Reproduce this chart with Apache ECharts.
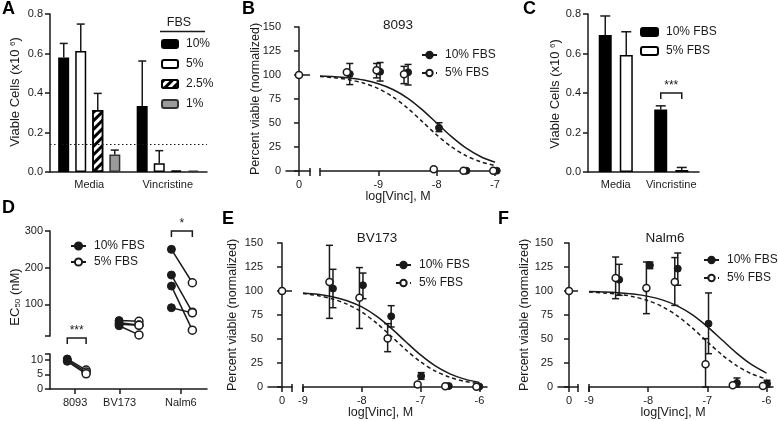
<!DOCTYPE html>
<html>
<head>
<meta charset="utf-8">
<script src="https://cdn.jsdelivr.net/npm/echarts@6/dist/echarts.min.js"></script>
<style>
  html, body { margin: 0; padding: 0; background: #fff; }
  #chart { width: 778px; height: 421px; }
</style>
</head>
<body>
<div id="chart"></div>
<script>
// ---------- data ----------

// A: viable cells per FBS level (x10^6)
const aCategories = ['Media', 'Vincristine'];
const aLevels = ['10%', '5%', '2.5%', '1%'];
const aMean = [[0.580, 0.334], [0.613, 0.044], [0.314, 0.007], [0.089, 0.007]];
const aUpper = [[0.651, 0.562], [0.749, 0.108], [0.398, null], [0.111, null]];
const aCutoff = 0.137;

// C: viable cells, 10% vs 5% FBS
const cCategories = ['Media', 'Vincristine'];
const cLevels = ['10% FBS', '5% FBS'];
const cMean = [[0.694, 0.316], [0.593, 0.010]];
const cUpper = [[0.790, 0.335], [0.710, 0.023]];

// shared control (untreated) point for the dose curves
const doseControl = 100;

// B: 8093
const bX10 = [-9.49, -8.97, -8.49, -7.96, -7.49, -6.97];
const bY10 = [101, 103.4, 102.8, 45, 0.3, 0.3];
const bErr10 = [[90, 112], [93.7, 113], [89.6, 111], [41, 50.3], null, null];
const bX5 = [-9.54, -9.03, -8.56, -8.05, -7.54, -7.03];
const bY5 = [102.8, 105, 100.7, 1.8, 0.3, 0.3];
const bErr5 = [null, [97, 112], [91, 109], null, null, null];
const bFitX = [-10, -9.75, -9.5, -9.25, -9, -8.75, -8.5, -8.25, -8, -7.75, -7.5, -7.25, -7];
const bFit10 = [99.0, 98.3, 96.9, 94.7, 90.9, 84.9, 76.0, 64.0, 50.0, 36.0, 24.0, 15.1, 9.1];
const bFit5 = [98.4, 97.1, 95.0, 91.5, 85.8, 77.2, 65.6, 51.7, 37.6, 25.3, 16.0, 9.7, 5.7];

// E: BV173
const eX10 = [-8.49, -7.98, -7.50, -6.99, -6.52, -6.00];
const eY10 = [102.5, 106, 73.6, 11.4, 1, 0.5];
const eErr10 = [[82.6, 122.6], [92, 118.7], [62.5, 84.7], [8, 15], null, null];
const eX5 = [-8.55, -8.04, -7.56, -7.05, -6.58, -6.05];
const eY5 = [109.4, 93, 50.4, 2.5, 0.8, 0.3];
const eErr5 = [[71.5, 147.6], [61, 124.4], [36.8, 66], null, null, null];
const eFitX = [-9, -8.75, -8.5, -8.25, -8, -7.75, -7.5, -7.25, -7, -6.75, -6.5, -6.25, -6];
const eFit10 = [98.0, 96.6, 94.1, 89.9, 83.4, 73.8, 61.3, 47.1, 33.4, 22.0, 13.7, 8.2, 4.8];
const eFit5 = [97.3, 95.2, 91.8, 86.3, 78.0, 66.6, 52.9, 38.7, 26.2, 16.6, 10.1, 5.9, 3.4];

// F: Nalm6
const fX10 = [-8.49, -7.97, -7.50, -6.98, -6.50, -5.99];
const fY10 = [111.8, 126.8, 123.3, 66, 4.2, 3.5];
const fErr10 = [[95.5, 127.8], [123.3, 130.2], [106, 139.6], [34.7, 98], [0, 9.4], [0, 7]];
const fX5 = [-8.55, -8.03, -7.55, -7.03, -6.57, -6.06];
const fY5 = [113.5, 103, 109.4, 23.6, 1.8, 1];
const fErr5 = [[92, 135.4], [76.4, 130.2], [85, 134.8], [0, 50.4], null, null];
const fFitX = [-9, -8.75, -8.5, -8.25, -8, -7.75, -7.5, -7.25, -7, -6.75, -6.5, -6.25, -6];
const fFit10 = [99.4, 99.0, 98.2, 96.8, 94.4, 90.5, 84.3, 75.1, 62.9, 48.9, 35.0, 23.2, 14.5];
const fFit5 = [98.9, 98.0, 96.6, 94.1, 89.9, 83.4, 73.8, 61.3, 47.1, 33.4, 22.0, 13.7, 8.2];

// D: EC50 (nM), paired 10% -> 5% FBS
const dGroups = ['8093', 'BV173', 'Nalm6'];
const dLabelX = [0.48, 1.33, 2.50];
const dX10 = [0.33, 1.32, 2.32];
const dX5 = [0.69, 1.70, 2.72];
const dEc10 = [[10.3, 9.9, 9.5], [56, 50, 46, 42], [250, 180, 150, 91]];
const dEc5 = [[6.5, 5.8, 5.2], [54, 44, 43, 17], [159, 79, 30, 77]];

// ---------- helpers ----------
const FONT = "'Liberation Sans', Arial, sans-serif";
const INK = '#1a1a1a';
const FILLED = { color: INK, borderColor: INK, borderWidth: 1, opacity: 1 };
const OPEN = { color: '#fff', borderColor: INK, borderWidth: 1.5, opacity: 1 };
const legendText = {
  B10: '10% FBS', B5: '5% FBS', C10: '10% FBS', C5: '5% FBS',
  D10: '10% FBS', D5: '5% FBS', E10: '10% FBS', E5: '5% FBS',
  F10: '10% FBS', F5: '5% FBS'
};

const grids = [], xAxes = [], yAxes = [], series = [], legends = [], elements = [];

function addGrid(left, top, width, height) {
  grids.push({ left: left, top: top, width: width, height: height, containLabel: false, outerBoundsMode: 'none' });
  return grids.length - 1;
}

function axisParts(show, ticks, labels, margin) {
  const o = {
    axisLine: { show: show, lineStyle: { color: INK, width: 1.5 } },
    axisTick: { show: show, length: 5, lineStyle: { color: INK, width: 1.5 } },
    axisLabel: { show: show, color: INK, fontSize: 11, fontFamily: FONT, margin: margin },
    splitLine: { show: false }
  };
  if (ticks) o.axisTick.customValues = ticks;
  if (labels) o.axisLabel.customValues = labels;
  return o;
}

function text(str, x, y, size, extra) {
  const el = {
    type: 'text', x: x, y: y, silent: true,
    style: { text: str, fill: INK, fontSize: size, fontFamily: FONT, align: 'center', verticalAlign: 'middle' }
  };
  if (extra) {
    if (extra.rotation) el.rotation = extra.rotation;
    Object.assign(el.style, extra.style || {});
  }
  elements.push(el);
}

function makeLegend(names, left, top, iconW, iconH, gap) {
  legends.push({
    data: names, left: left, top: top, orient: 'vertical', padding: 0,
    itemWidth: iconW, itemHeight: iconH, itemGap: gap, selectedMode: false,
    textStyle: { color: INK, fontSize: 12, fontFamily: FONT, padding: [0, 0, 0, 3] },
    formatter: function (n) { return legendText[n] || n; }
  });
}

// error bar above a grouped bar
function barErrorRender(count, barWidth, gap, cap) {
  return function (params, api) {
    const k = api.value(3);
    const dx = (k - (count - 1) / 2) * (barWidth + gap);
    const base = api.coord([api.value(0), api.value(1)]);
    const top = api.coord([api.value(0), api.value(2)]);
    const x = base[0] + dx;
    const s = { stroke: INK, lineWidth: 1.5 };
    return {
      type: 'group', children: [
        { type: 'line', shape: { x1: x, y1: base[1], x2: x, y2: top[1] }, style: s },
        { type: 'line', shape: { x1: x - cap, y1: top[1], x2: x + cap, y2: top[1] }, style: s }
      ]
    };
  };
}

// symmetric error bar for dose points
function doseErrorRender(cap) {
  return function (params, api) {
    const x = api.value(0);
    const lo = api.coord([x, api.value(1)]);
    const hi = api.coord([x, api.value(2)]);
    const s = { stroke: INK, lineWidth: 1.5 };
    return {
      type: 'group', children: [
        { type: 'line', shape: { x1: lo[0], y1: lo[1], x2: hi[0], y2: hi[1] }, style: s },
        { type: 'line', shape: { x1: lo[0] - cap, y1: lo[1], x2: lo[0] + cap, y2: lo[1] }, style: s },
        { type: 'line', shape: { x1: hi[0] - cap, y1: hi[1], x2: hi[0] + cap, y2: hi[1] }, style: s }
      ]
    };
  };
}

// axis-break marks: short vertical strokes crossing the x axis line
function breakRender(params, api) {
  const p = api.coord([api.value(0), api.value(1)]);
  return { type: 'line', shape: { x1: p[0], y1: p[1] - 3, x2: p[0], y2: p[1] + 5 }, style: { stroke: INK, lineWidth: 1.5 } };
}

// significance bracket between two x positions at one level
function bracketRender(stars, dxA, dxB) {
  return function (params, api) {
    const a = api.coord([api.value(0), api.value(2)]);
    const b = api.coord([api.value(1), api.value(2)]);
    const xa = a[0] + dxA, xb = b[0] + dxB, y = a[1];
    return {
      type: 'group', children: [
        { type: 'polyline', shape: { points: [[xa, y + 6], [xa, y], [xb, y], [xb, y + 6]] }, style: { stroke: INK, lineWidth: 1.5, fill: null } },
        { type: 'text', x: (xa + xb) / 2, y: y - 1, style: { text: stars, fill: INK, fontSize: 12, fontFamily: FONT, align: 'center', verticalAlign: 'bottom' } }
      ]
    };
  };
}

// ---------- panel A ----------
const gA = addGrid(50, 14, 157, 158);
xAxes.push(Object.assign(axisParts(true, null, null, 7), { type: 'category', gridIndex: gA, data: aCategories }));
xAxes[gA].axisTick.show = false;
xAxes[gA].axisLabel.interval = 0;
yAxes.push(Object.assign(axisParts(true, null, null, 7), { type: 'value', gridIndex: gA, min: 0, max: 0.8, interval: 0.2 }));
yAxes[gA].axisLabel.formatter = function (v) { return v.toFixed(1); };

const aStyles = [
  { color: '#000', borderColor: '#000', borderWidth: 1.5 },
  { color: '#fff', borderColor: '#000', borderWidth: 1.5 },
  { color: '#fff', borderColor: '#000', borderWidth: 1.5,
    decal: { symbol: 'rect', symbolSize: 1, color: '#000', dashArrayX: [1, 0], dashArrayY: [2.5, 2.5], rotation: -Math.PI / 4 } },
  { color: '#9b9b9b', borderColor: '#333', borderWidth: 1.5 }
];
aLevels.forEach(function (lvl, k) {
  const s = {
    type: 'bar', name: lvl, xAxisIndex: gA, yAxisIndex: gA, data: aMean[k],
    barWidth: 11, barGap: '55%', itemStyle: aStyles[k], z: 2
  };
  if (k === 0) {
    s.markLine = {
      silent: true, symbol: 'none', label: { show: false },
      lineStyle: { color: INK, type: [1.5, 2.5], width: 1.2 },
      data: [{ yAxis: aCutoff }]
    };
  }
  series.push(s);
});
const aErrData = [];
aLevels.forEach(function (lvl, k) {
  aCategories.forEach(function (c, j) {
    if (aUpper[k][j] != null) aErrData.push([j, aMean[k][j], aUpper[k][j], k]);
  });
});
series.push({ type: 'custom', xAxisIndex: gA, yAxisIndex: gA, data: aErrData, renderItem: barErrorRender(4, 11, 6, 4), z: 3, silent: true });
makeLegend(aLevels, 161, 38, 16, 8, 8);
text('FBS', 179, 23, 12.5);
elements.push({ type: 'line', silent: true, shape: { x1: 160, y1: 31.5, x2: 205, y2: 31.5 }, style: { stroke: INK, lineWidth: 1.5 } });
text('Viable Cells (x10 {sup|6})', 15, 92, 13, {
  rotation: Math.PI / 2,
  style: { rich: { sup: { fontSize: 8, verticalAlign: 'top', fontFamily: FONT, fill: INK } } }
});

// ---------- dose-response panels (B, E, F) ----------
function dosePanel(p) {
  const gc = addGrid(p.ctrlLeft, p.top, p.ctrlWidth, 144);
  xAxes.push(Object.assign(axisParts(true, [0], [0], 8), { type: 'value', gridIndex: gc, min: -1, max: p.ctrlMax }));
  yAxes.push(Object.assign(axisParts(true, null, null, 5), { type: 'value', gridIndex: gc, min: 0, max: 150, interval: 25 }));
  const gl = addGrid(p.logLeft, p.top, p.logWidth, 144);
  xAxes.push(Object.assign(axisParts(true, p.logTicks, p.logLabels, 8), { type: 'value', gridIndex: gl, min: p.logMin, max: p.logMax }));
  yAxes.push({ type: 'value', gridIndex: gl, min: 0, max: 150, show: false, splitLine: { show: false } });

  // break marks at the end of the control segment and the start of the log segment
  series.push({ type: 'custom', xAxisIndex: gc, yAxisIndex: gc, data: [[p.ctrlMax, 0]], renderItem: breakRender, clip: false, z: 3, silent: true });
  series.push({ type: 'custom', xAxisIndex: gl, yAxisIndex: gl, data: [[p.logMin, 0]], renderItem: breakRender, clip: false, z: 3, silent: true });

  // control point and its plateau line
  series.push({ type: 'line', xAxisIndex: gc, yAxisIndex: gc, data: [[0, doseControl], [p.ctrlMax, doseControl]], symbol: 'none', lineStyle: { color: INK, width: 1.5 }, z: 2, silent: true });
  series.push({ type: 'scatter', xAxisIndex: gc, yAxisIndex: gc, data: [[0, doseControl]], symbolSize: 7, itemStyle: FILLED, z: 4, silent: true });
  series.push({ type: 'scatter', xAxisIndex: gc, yAxisIndex: gc, data: [[0, doseControl]], symbolSize: 7, itemStyle: OPEN, z: 5, silent: true });

  // fitted curves (also give the legend its icons)
  series.push({
    type: 'line', name: p.key + '10', xAxisIndex: gl, yAxisIndex: gl,
    data: p.fitX.map(function (x, i) { return [x, p.fit10[i]]; }),
    smooth: 0.3, symbol: 'circle', showSymbol: false, symbolSize: 7,
    itemStyle: FILLED, lineStyle: { color: INK, width: 1.5 }, z: 2, silent: true
  });
  series.push({
    type: 'line', name: p.key + '5', xAxisIndex: gl, yAxisIndex: gl,
    data: p.fitX.map(function (x, i) { return [x, p.fit5[i]]; }),
    smooth: 0.3, symbol: 'circle', showSymbol: false, symbolSize: 7,
    itemStyle: OPEN, lineStyle: { color: INK, width: 1.5, type: [4, 3] }, z: 2, silent: true
  });

  const errs = [];
  p.err10.forEach(function (e, i) { if (e) errs.push([p.x10[i], e[0], e[1]]); });
  p.err5.forEach(function (e, i) { if (e) errs.push([p.x5[i], e[0], e[1]]); });
  series.push({ type: 'custom', xAxisIndex: gl, yAxisIndex: gl, data: errs, renderItem: doseErrorRender(3.5), z: 3, silent: true });

  series.push({ type: 'scatter', xAxisIndex: gl, yAxisIndex: gl, data: p.x10.map(function (x, i) { return [x, p.y10[i]]; }), symbolSize: 7, itemStyle: FILLED, clip: false, z: 4, silent: true });
  series.push({ type: 'scatter', xAxisIndex: gl, yAxisIndex: gl, data: p.x5.map(function (x, i) { return [x, p.y5[i]]; }), symbolSize: 7, itemStyle: OPEN, clip: false, z: 5, silent: true });

  makeLegend([p.key + '10', p.key + '5'], p.legLeft, p.legTop, 15, 8, p.legGap);
  text(p.title, p.titleX, p.titleY, 13.5);
  text('log[Vinc], M', p.xNameX, p.xNameY, 12.5);
  text('Percent viable (normalized)', p.yNameX, p.top + 72, 12.5, { rotation: Math.PI / 2 });
}

// ---------- panel B ----------
dosePanel({
  key: 'B', top: 27, ctrlLeft: 286, ctrlWidth: 24, ctrlMax: 0.85,
  logLeft: 320, logWidth: 175, logMin: -10, logMax: -7,
  logTicks: [-9, -8, -7], logLabels: [-9, -8, -7],
  x10: bX10, y10: bY10, err10: bErr10, x5: bX5, y5: bY5, err5: bErr5,
  fitX: bFitX, fit10: bFit10, fit5: bFit5,
  legLeft: 421, legTop: 49, legGap: 6, title: '8093', titleX: 398, titleY: 25,
  xNameX: 398, xNameY: 197, yNameX: 256
});

// ---------- panel C ----------
const gC = addGrid(588, 14, 111, 158);
xAxes.push(Object.assign(axisParts(true, null, null, 7), { type: 'category', gridIndex: gC, data: cCategories }));
xAxes[gC].axisTick.show = false;
xAxes[gC].axisLabel.interval = 0;
yAxes.push(Object.assign(axisParts(true, null, null, 7), { type: 'value', gridIndex: gC, min: 0, max: 0.8, interval: 0.2 }));
yAxes[gC].axisLabel.formatter = function (v) { return v.toFixed(1); };
const cStyles = [
  { color: '#000', borderColor: '#000', borderWidth: 1.5 },
  { color: '#fff', borderColor: '#000', borderWidth: 1.5 }
];
cLevels.forEach(function (lvl, k) {
  series.push({
    type: 'bar', name: k === 0 ? 'C10' : 'C5', xAxisIndex: gC, yAxisIndex: gC, data: cMean[k],
    barWidth: 13, barGap: '62%', itemStyle: cStyles[k], z: 2
  });
});
const cErrData = [];
cLevels.forEach(function (lvl, k) {
  cCategories.forEach(function (c, j) { cErrData.push([j, cMean[k][j], cUpper[k][j], k]); });
});
series.push({ type: 'custom', xAxisIndex: gC, yAxisIndex: gC, data: cErrData, renderItem: barErrorRender(2, 13, 8, 5), z: 3, silent: true });
series.push({ type: 'custom', xAxisIndex: gC, yAxisIndex: gC, data: [[1, 1, 0.4]], renderItem: bracketRender('***', -10.5, 10.5), z: 3, silent: true });
makeLegend(['C10', 'C5'], 640, 26, 17, 8, 7);
text('Viable Cells (x10 {sup|6})', 555, 94, 13, {
  rotation: Math.PI / 2,
  style: { rich: { sup: { fontSize: 8, verticalAlign: 'top', fontFamily: FONT, fill: INK } } }
});

// ---------- panel D ----------
const gDu = addGrid(50, 231, 157, 105);
xAxes.push({ type: 'value', gridIndex: gDu, min: 0, max: 3, show: false, splitLine: { show: false } });
yAxes.push(Object.assign(axisParts(true, [14, 100, 200, 300], [100, 200, 300], 7), { type: 'value', gridIndex: gDu, min: 14, max: 300 }));
const gDl = addGrid(50, 354, 157, 35);
xAxes.push(Object.assign(axisParts(true, dLabelX, dLabelX, 8), { type: 'value', gridIndex: gDl, min: 0, max: 3 }));
xAxes[gDl].axisLabel.formatter = function (v) {
  let best = 0;
  dLabelX.forEach(function (p, i) { if (Math.abs(p - v) < Math.abs(dLabelX[best] - v)) best = i; });
  return dGroups[best];
};
yAxes.push(Object.assign(axisParts(true, [0, 5, 10, 12], [0, 5, 10], 7), { type: 'value', gridIndex: gDl, min: 0, max: 12 }));

dGroups.forEach(function (g, gi) {
  const ax = gi === 0 ? gDl : gDu;
  dEc10[gi].forEach(function (v, k) {
    series.push({
      type: 'line', xAxisIndex: ax, yAxisIndex: ax, data: [[dX10[gi], v], [dX5[gi], dEc5[gi][k]]],
      symbol: 'none', lineStyle: { color: INK, width: 1.5 }, z: 2, silent: true
    });
  });
  series.push({ type: 'scatter', xAxisIndex: ax, yAxisIndex: ax, data: dEc10[gi].map(function (v) { return [dX10[gi], v]; }), symbolSize: 8, itemStyle: FILLED, clip: false, z: 4, silent: true });
  series.push({ type: 'scatter', xAxisIndex: ax, yAxisIndex: ax, data: dEc5[gi].map(function (v) { return [dX5[gi], v]; }), symbolSize: 8, itemStyle: OPEN, clip: false, z: 5, silent: true });
});
series.push({ type: 'custom', xAxisIndex: gDl, yAxisIndex: gDl, data: [[dX10[0], dX5[0], 17.5]], renderItem: bracketRender('***', 0, 0), z: 3, silent: true });
series.push({ type: 'custom', xAxisIndex: gDu, yAxisIndex: gDu, data: [[dX10[2], dX5[2], 300]], renderItem: bracketRender('*', 0, 0), z: 3, silent: true });
// legend-only series
series.push({ type: 'line', name: 'D10', xAxisIndex: gDu, yAxisIndex: gDu, data: [], symbol: 'circle', symbolSize: 8, itemStyle: FILLED, lineStyle: { color: INK, width: 1.5 } });
series.push({ type: 'line', name: 'D5', xAxisIndex: gDu, yAxisIndex: gDu, data: [], symbol: 'circle', symbolSize: 8, itemStyle: OPEN, lineStyle: { color: INK, width: 1.5 } });
makeLegend(['D10', 'D5'], 70, 240, 15, 9, 4);
text('EC{sub|50} (nM)', 15, 297, 13, {
  rotation: Math.PI / 2,
  style: { rich: { sub: { fontSize: 8, verticalAlign: 'bottom', fontFamily: FONT, fill: INK } } }
});

// ---------- panel E ----------
dosePanel({
  key: 'E', top: 243, ctrlLeft: 268, ctrlWidth: 24, ctrlMax: 0.71,
  logLeft: 303, logWidth: 184, logMin: -9, logMax: -5.87,
  logTicks: [-9, -8, -7, -6], logLabels: [-9, -8, -7, -6],
  x10: eX10, y10: eY10, err10: eErr10, x5: eX5, y5: eY5, err5: eErr5,
  fitX: eFitX, fit10: eFit10, fit5: eFit5,
  legLeft: 395, legTop: 259, legGap: 6, title: 'BV173', titleX: 377, titleY: 238,
  xNameX: 380.5, xNameY: 413, yNameX: 233
});

// ---------- panel F ----------
dosePanel({
  key: 'F', top: 243, ctrlLeft: 558, ctrlWidth: 20, ctrlMax: 0.82,
  logLeft: 589, logWidth: 184, logMin: -9, logMax: -5.89,
  logTicks: [-9, -8, -7, -6], logLabels: [-9, -8, -7, -6],
  x10: fX10, y10: fY10, err10: fErr10, x5: fX5, y5: fY5, err5: fErr5,
  fitX: fFitX, fit10: fFit10, fit5: fFit5,
  legLeft: 703, legTop: 254, legGap: 6, title: 'Nalm6', titleX: 665, titleY: 238,
  xNameX: 673, xNameY: 413, yNameX: 525
});

// panel letters
[['A', 2, 9], ['B', 242, 9], ['C', 523, 9], ['D', 2, 208], ['E', 222, 219], ['F', 498, 219]].forEach(function (l) {
  text(l[0], l[1], l[2], 18, { style: { fontWeight: 'bold', align: 'left', fill: '#000' } });
});

const chart = echarts.init(document.getElementById('chart'));
chart.setOption({
  animation: false,
  textStyle: { fontFamily: FONT },
  grid: grids,
  xAxis: xAxes,
  yAxis: yAxes,
  legend: legends,
  series: series,
  graphic: { elements: elements }
});
</script>
</body>
</html>
